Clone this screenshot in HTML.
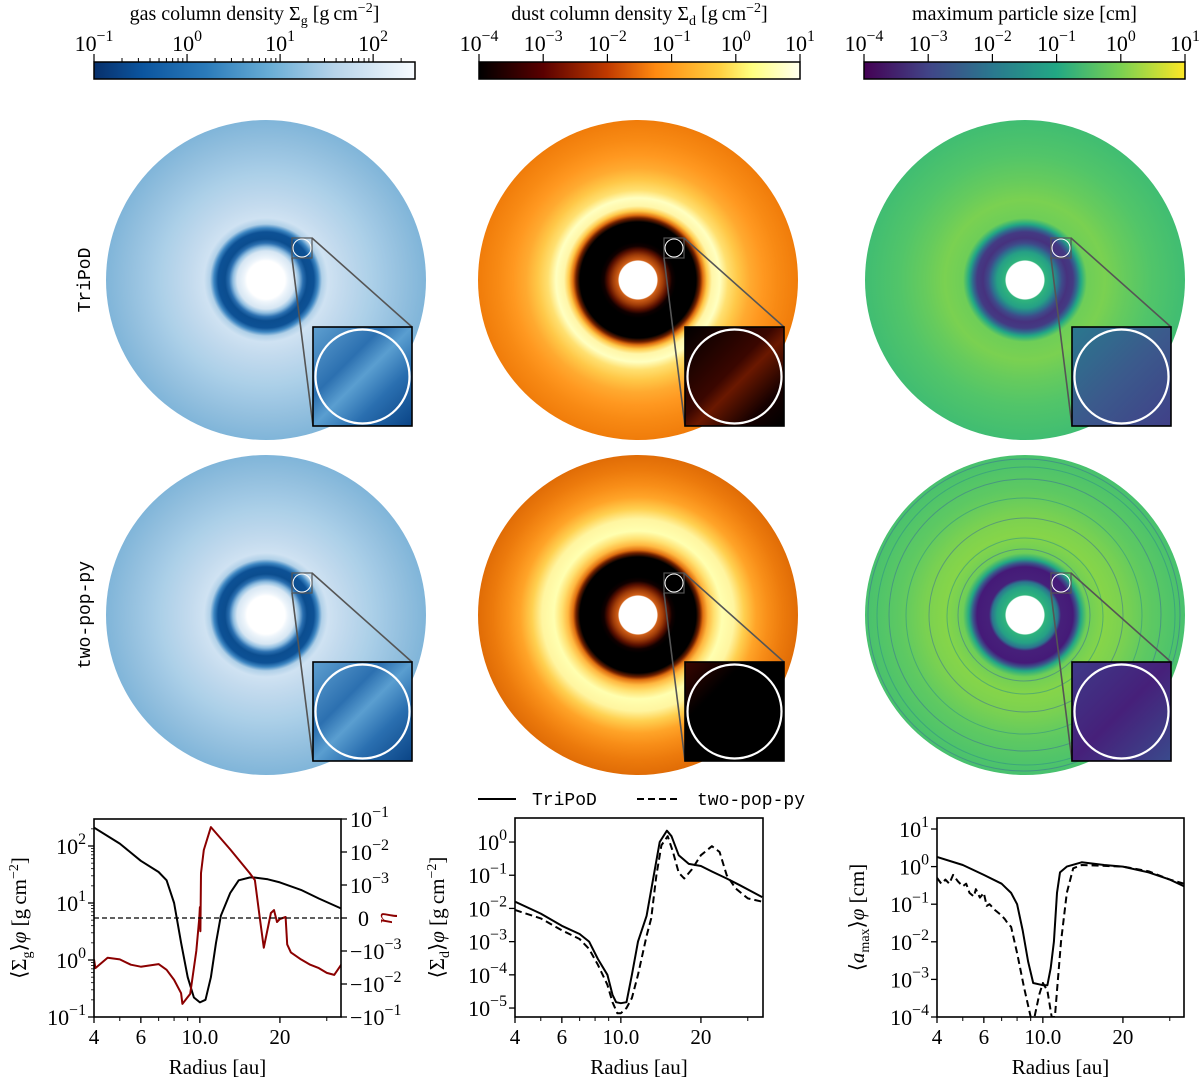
<!DOCTYPE html>
<html><head><meta charset="utf-8"><style>
html,body{margin:0;padding:0;background:#fff}
svg{display:block;font-family:"Liberation Serif","DejaVu Serif",serif}
.mono{font-family:"Liberation Mono","DejaVu Sans Mono",monospace}
</style></head><body>
<svg id="fig" width="1200" height="1080" viewBox="0 0 1200 1080" xmlns="http://www.w3.org/2000/svg">
<defs>
<linearGradient id="cbGas" x1="0" x2="1"><stop offset="0" stop-color="#08306b"/><stop offset="0.15" stop-color="#0b559f"/><stop offset="0.35" stop-color="#2b7bba"/><stop offset="0.55" stop-color="#6aaed6"/><stop offset="0.75" stop-color="#b7d4ea"/><stop offset="1" stop-color="#f7fbff"/></linearGradient>
<linearGradient id="cbDust" x1="0" x2="1"><stop offset="0" stop-color="#000"/><stop offset="0.2" stop-color="#5a0000"/><stop offset="0.4" stop-color="#c03a00"/><stop offset="0.55" stop-color="#ff8a10"/><stop offset="0.75" stop-color="#ffd040"/><stop offset="0.85" stop-color="#ffff80"/><stop offset="1" stop-color="#fffff0"/></linearGradient>
<linearGradient id="cbAmax" x1="0" x2="1"><stop offset="0" stop-color="#440154"/><stop offset="0.2" stop-color="#414487"/><stop offset="0.4" stop-color="#2a788e"/><stop offset="0.6" stop-color="#22a884"/><stop offset="0.8" stop-color="#7ad151"/><stop offset="1" stop-color="#fde725"/></linearGradient>
<linearGradient id="inGas" x1="0" y1="0" x2="1" y2="1"><stop offset="0" stop-color="#5e9fd0"/><stop offset="0.35" stop-color="#2c70b0"/><stop offset="0.5" stop-color="#5a9ed0"/><stop offset="0.7" stop-color="#2a6fb0"/><stop offset="1" stop-color="#0a4486"/></linearGradient>
<linearGradient id="inDust" x1="0" y1="0" x2="1" y2="1"><stop offset="0" stop-color="#000"/><stop offset="0.45" stop-color="#3a0600"/><stop offset="0.55" stop-color="#6a1800"/><stop offset="0.8" stop-color="#150000"/><stop offset="1" stop-color="#000"/></linearGradient>
<linearGradient id="inDust2" x1="0" y1="0" x2="1" y2="1"><stop offset="0" stop-color="#3a0500"/><stop offset="0.3" stop-color="#000"/><stop offset="1" stop-color="#000"/></linearGradient>
<linearGradient id="inAmax" x1="0" y1="0" x2="1" y2="1"><stop offset="0" stop-color="#2a788e"/><stop offset="0.5" stop-color="#3b5a8c"/><stop offset="1" stop-color="#404088"/></linearGradient>
<linearGradient id="inAmax2" x1="0" y1="0" x2="1" y2="1"><stop offset="0" stop-color="#3e3a88"/><stop offset="0.5" stop-color="#46207a"/><stop offset="1" stop-color="#3a4a8c"/></linearGradient>
</defs>
<g id="cbars"></g>
<g id="disks"></g>
<text class="mono" transform="translate(90,280) rotate(-90)" text-anchor="middle" font-size="18">TriPoD</text>
<text class="mono" transform="translate(90,615) rotate(-90)" text-anchor="middle" font-size="18">two-pop-py</text>
<g id="plots"></g>
<g>
<line x1="478" y1="799" x2="516" y2="799" stroke="#000" stroke-width="2"/>
<text class="mono" x="532" y="805" font-size="18">TriPoD</text>
<line x1="637" y1="799" x2="677" y2="799" stroke="#000" stroke-width="2" stroke-dasharray="7,4"/>
<text class="mono" x="697" y="805" font-size="18">two-pop-py</text>
</g>
</svg>
<script>
// ---- data arrays ----
const radiusTicks = [4, 6, 10, 20];
const radiusTickLabels = ["4", "6", "10.0", "20"];
const radiusMinor = [5, 7, 8, 9, 30];
const gasR = [4, 5, 6, 7, 7.5, 8, 8.5, 9, 9.5, 10, 10.5, 11, 11.5, 12, 13, 14, 15.4, 16, 18, 20, 24, 28, 34];
const gasSigma = [210, 110, 55, 35, 25, 10, 2, 0.5, 0.22, 0.18, 0.2, 0.5, 2, 6, 15, 25, 28, 28, 26, 23, 17, 12, 8];
const etaR = [4, 4.05, 4.5, 5, 5.5, 6, 7, 7.5, 8, 8.5, 8.6, 9.2, 9.7, 9.95, 10, 10.05, 10.1, 10.35, 11, 13, 15.4, 16.1, 16.8, 17.4, 18.5, 19, 19.5, 20, 21, 21.3, 22, 24, 26, 28, 30, 32, 34];
const etaVal = [-1.8e-3, -3.3e-3, -1.6e-3, -1.8e-3, -2.6e-3, -3e-3, -2.5e-3, -3.7e-3, -7.5e-3, -1.9e-2, -4e-2, -2e-2, -1e-3, 0, 3.3e-4, -4e-4, 2.3e-3, 1.15e-2, 5.7e-2, 1.2e-2, 2.3e-3, 1.4e-3, 0, -9e-4, 1.5e-4, 2.4e-4, -1.2e-4, -3e-5, 3e-5, -8e-4, -1.1e-3, -1.8e-3, -2.6e-3, -3.3e-3, -4.6e-3, -5.3e-3, -2.6e-3];
const dustR = [4, 5, 6, 7, 7.6, 8.2, 8.9, 9.3, 9.6, 10, 10.5, 11, 11.6, 12.5, 13.3, 14, 14.9, 15.5, 16.5, 18, 20, 22, 25, 28, 34];
const dustTri = [1.6e-2, 7e-3, 3e-3, 1.7e-3, 1e-3, 3e-4, 1e-4, 2.5e-5, 1.5e-5, 1.4e-5, 1.5e-5, 1e-4, 1e-3, 6e-3, 1e-1, 1, 2.2, 1.5, 0.4, 0.22, 0.19, 0.13, 0.08, 0.05, 0.022];
const dustR2 = [4, 5, 6, 7, 7.6, 8.2, 8.9, 9.3, 9.7, 10, 10.5, 11, 11.6, 12.5, 13, 13.6, 14.2, 15, 15.7, 16.5, 17.3, 18.5, 20, 22, 23.5, 25, 27, 30, 34];
const dustTwo = [9e-3, 5e-3, 2.2e-3, 1.2e-3, 6e-4, 2e-4, 5e-5, 1.5e-5, 7e-6, 7e-6, 1e-5, 2e-5, 1e-4, 1.5e-3, 5e-3, 0.1, 0.8, 1.5, 0.5, 0.12, 0.08, 0.15, 0.4, 0.75, 0.5, 0.1, 0.04, 0.02, 0.016];
const amaxR = [4, 5, 6, 7, 7.6, 8.0, 8.4, 8.8, 9.2, 10, 10.4, 10.7, 11, 11.3, 11.6, 12.3, 14, 17, 20, 25, 30, 34];
const amaxTri = [1.8, 1.1, 0.6, 0.35, 0.2, 0.1, 0.02, 3e-3, 8e-4, 7e-4, 7e-4, 2e-3, 0.01, 0.2, 0.7, 1.0, 1.3, 1.1, 1.0, 0.7, 0.45, 0.3];
const amaxR2 = [4, 4.15, 4.3, 4.45, 4.6, 4.8, 5, 5.15, 5.3, 5.5, 5.6, 5.8, 6, 6.15, 6.3, 6.6, 7, 7.2, 7.4, 7.6, 8, 8.5, 9, 9.3, 9.7, 10, 10.4, 10.8, 11.1, 11.3, 11.7, 12.3, 13, 14, 20, 25, 30, 34];
const amaxTwo = [0.5, 0.35, 0.45, 0.35, 0.6, 0.4, 0.3, 0.35, 0.2, 0.16, 0.25, 0.15, 0.2, 0.09, 0.1, 0.07, 0.05, 0.04, 0.03, 0.025, 0.005, 6e-4, 1e-4, 1e-4, 4e-4, 8e-4, 5e-4, 1e-4, 1e-4, 5e-4, 0.01, 0.2, 0.9, 1.1, 1.0, 0.75, 0.45, 0.35];

const NS = "http://www.w3.org/2000/svg";
function mk(tag, attrs, parent) {
  const e = document.createElementNS(NS, tag);
  for (const k in attrs) e.setAttribute(k, attrs[k]);
  parent.appendChild(e);
  return e;
}
function pow10Label(parent, x, y, exp, anchor, size, name) {
  const t = mk("text", {x: x, y: y, "text-anchor": anchor, "font-size": size}, parent);
  
  
  t.appendChild(document.createTextNode("10"));
  const s = mk("tspan", {dy: -size * 0.45, "font-size": size * 0.72}, t);
  s.textContent = (exp < 0 ? "\u2212" + (-exp) : "" + exp);
  return t;
}

// ---- colorbars ----
const cb = document.getElementById("cbars");
const cbDefs = [
  {x: 94, grad: "cbGas", lo: -1, hi: 2.45, exps: [-1, 0, 1, 2], minor: true, title: "gas column density \u03A3", sub: "g", unit: " [g\u2009cm", name: "gas"},
  {x: 479, grad: "cbDust", lo: -4, hi: 1, exps: [-4, -3, -2, -1, 0, 1], minor: false, title: "dust column density \u03A3", sub: "d", unit: " [g\u2009cm", name: "dust"},
  {x: 864, grad: "cbAmax", lo: -4, hi: 1, exps: [-4, -3, -2, -1, 0, 1], minor: false, title: "maximum particle size [cm]", sub: null, unit: null, name: "amax"}
];
cbDefs.forEach(d => {
  const w = 321;
  const g = mk("g", {}, cb);
  
  
  const r = mk("rect", {x: d.x, y: 62, width: w, height: 17, fill: "url(#" + d.grad + ")", stroke: "#000", "stroke-width": 1.5}, g);
  
  
  const sc = v => d.x + (v - d.lo) / (d.hi - d.lo) * w;
  d.exps.forEach(e => {
    mk("line", {x1: sc(e), x2: sc(e), y1: 62, y2: 54, stroke: "#000", "stroke-width": 1.2}, g);
    pow10Label(g, sc(e), 51, e, "middle", 22, 'colorbar-' + d.name + '-tick-label');
  });
  if (d.minor) {
    for (let e = d.lo; e < d.hi; e++) for (let m = 2; m < 10; m++) {
      const v = e + Math.log10(m);
      if (v < d.hi) mk("line", {x1: sc(v), x2: sc(v), y1: 62, y2: 58, stroke: "#000", "stroke-width": 1}, g);
    }
  }
  const t = mk("text", {x: d.x + w / 2, y: 20, "text-anchor": "middle", "font-size": 20}, g);
  
  
  t.appendChild(document.createTextNode(d.title));
  if (d.sub) {
    const s = mk("tspan", {dy: 5, "font-size": 14}, t); s.textContent = d.sub;
    const u = mk("tspan", {dy: -5}, t); u.textContent = d.unit;
    const p = mk("tspan", {dy: -8, "font-size": 14}, t); p.textContent = "\u22122";
    const c = mk("tspan", {dy: 8}, t); c.textContent = "]";
  }
});

// ---- disks ----
const disks = document.getElementById("disks");
const defs = document.querySelector("defs");
const gasStops = [[0, "#fff"], [19, "#fff"], [22, "#eef5fb"], [29, "#d6e6f3"], [33, "#8fbde0"], [37, "#2a6fb0"], [41, "#0b4d8f"], [48, "#0d5195"], [52, "#3d86c2"], [56, "#b0d0e8"], [62, "#cfe2f2"], [75, "#c4dbee"], [90, "#b8d5eb"], [105, "#acd0e8"], [120, "#a0c8e4"], [138, "#92bfde"], [160, "#80b5d9"]];
const dustStops1 = [[0, "#fff"], [19, "#fff"], [20, "#d06018"], [25, "#a03c08"], [30, "#5a1000"], [34, "#100000"], [38, "#000"], [58, "#000"], [62, "#702000"], [65, "#e07010"], [69, "#ffc848"], [74, "#fff6a8"], [82, "#ffffc0"], [90, "#ffe070"], [100, "#ffc848"], [112, "#ffaa30"], [125, "#ff9820"], [140, "#f88a14"], [160, "#f07c0a"]];
const dustStops2 = [[0, "#fff"], [19, "#fff"], [20, "#d06018"], [25, "#a03c08"], [30, "#5a1000"], [34, "#100000"], [38, "#000"], [58, "#000"], [62, "#702000"], [65, "#e07010"], [70, "#ffb840"], [76, "#ffe070"], [84, "#ffffb0"], [96, "#fff5a0"], [106, "#ffd050"], [118, "#ffa428"], [130, "#f88e18"], [145, "#ec7a0c"], [160, "#e06c06"]];
const amaxStops1 = [[0, "#fff"], [19, "#fff"], [20, "#2fb47c"], [28, "#25a085"], [33, "#2c738e"], [37, "#3f4a8a"], [42, "#46327e"], [48, "#443a83"], [52, "#31688e"], [56, "#22a884"], [62, "#6ece58"], [80, "#7ad151"], [100, "#66cb5d"], [125, "#52c569"], [160, "#40bd72"]];
const amaxStops2 = [[0, "#fff"], [19, "#fff"], [20, "#2fb47c"], [28, "#25a085"], [33, "#2c738e"], [36, "#46207a"], [48, "#451a78"], [52, "#3b528b"], [56, "#22a884"], [62, "#6ece58"], [80, "#86d549"], [100, "#7ad151"], [125, "#5ec962"], [160, "#48c16e"]];
let gid = 0;
function radGrad(stops, R) {
  const id = "rg" + (gid++);
  const g = mk("radialGradient", {id: id, cx: 0.5, cy: 0.5, r: 0.5}, defs);
  stops.forEach(s => mk("stop", {offset: s[0] / R, "stop-color": s[1]}, g));
  return id;
}
const diskDefs = [
  {cx: 266, cy: 280, stops: gasStops, inset: "inGas", name: "gas-tripod"},
  {cx: 638, cy: 280, stops: dustStops1, inset: "inDust", name: "dust-tripod"},
  {cx: 1025, cy: 280, stops: amaxStops1, inset: "inAmax", name: "amax-tripod"},
  {cx: 266, cy: 615, stops: gasStops, inset: "inGas", name: "gas-two-pop-py"},
  {cx: 638, cy: 615, stops: dustStops2, inset: "inDust2", name: "dust-two-pop-py"},
  {cx: 1025, cy: 615, stops: amaxStops2, inset: "inAmax2", name: "amax-two-pop-py", rings: true}
];
diskDefs.forEach(d => {
  const g = mk("g", {}, disks);
  
  
  const id = radGrad(d.stops, 160);
  mk("circle", {cx: d.cx, cy: d.cy, r: 160, fill: "url(#" + id + ")"}, g);
  if (d.rings) {
    [66, 78, 97, 118, 136, 149, 156].forEach((rr, i) => {
      mk("circle", {cx: d.cx + (i % 3 - 1), cy: d.cy + (i % 2), r: rr, fill: "none", stroke: i % 2 ? "#2a8a8c" : "#3a6a9a", "stroke-width": 1, opacity: 0.5}, g);
    });
  }
  const bx = d.cx + 26, by = d.cy - 42;
  mk("rect", {x: bx, y: by, width: 20, height: 20, fill: "none", stroke: "#555", "stroke-width": 1.2}, g);
  mk("circle", {cx: bx + 10, cy: by + 10, r: 9, fill: "none", stroke: "#fff", "stroke-width": 1}, g);
  const ix = d.cx + 47, iy = d.cy + 47;
  mk("line", {x1: bx + 20, y1: by, x2: ix + 99, y2: iy, stroke: "#555", "stroke-width": 1.6}, g);
  mk("line", {x1: bx, y1: by + 20, x2: ix, y2: iy + 99, stroke: "#555", "stroke-width": 1.6}, g);
  const r = mk("rect", {x: ix, y: iy, width: 99, height: 99, fill: "url(#" + d.inset + ")", stroke: "#000", "stroke-width": 1.6}, g);
  
  
  mk("circle", {cx: ix + 49.5, cy: iy + 49.5, r: 47, fill: "none", stroke: "#fff", "stroke-width": 2.2}, g);
});

// ---- line plots ----
const plots = document.getElementById("plots");
const xl4 = Math.log10(4);
function makePlot(o) {
  const g = mk("g", {}, plots);
  
  
  const X = r => o.x0 + 266 * (Math.log10(r) - xl4);
  const Y = v => o.yb - o.dec * (Math.log10(v) - o.lo);
  const clip = "clip-" + o.name;
  const cp = mk("clipPath", {id: clip}, defs);
  mk("rect", {x: o.x0, y: o.yt, width: o.x1 - o.x0, height: o.yb - o.yt}, cp);
  o.series.forEach(s => {
    const d = s.r.map((r, i) => (i ? "L" : "M") + X(r).toFixed(1) + "," + (s.f ? s.f(s.v[i]) : Y(s.v[i])).toFixed(1)).join("");
    const p = mk("path", {d: d, fill: "none", stroke: s.color, "stroke-width": 2, "stroke-dasharray": s.dash || "none", "clip-path": "url(#" + clip + ")", "stroke-linejoin": "round"}, g);
    
    
  });
  mk("rect", {x: o.x0, y: o.yt, width: o.x1 - o.x0, height: o.yb - o.yt, fill: "none", stroke: "#000", "stroke-width": 1.6}, g);
  radiusTicks.forEach((r, i) => {
    mk("line", {x1: X(r), x2: X(r), y1: o.yb, y2: o.yb + 6, stroke: "#000", "stroke-width": 1.3}, g);
    const t = mk("text", {x: X(r), y: o.yb + 27, "text-anchor": "middle", "font-size": 21}, g);
    
    
    t.textContent = radiusTickLabels[i];
  });
  radiusMinor.forEach(r => { if (X(r) < o.x1) mk("line", {x1: X(r), x2: X(r), y1: o.yb, y2: o.yb + 4, stroke: "#000", "stroke-width": 1}, g); });
  const xt = mk("text", {x: (o.x0 + o.x1) / 2, y: o.yb + 57, "text-anchor": "middle", "font-size": 21}, g);
  
  
  xt.textContent = "Radius [au]";
  for (let e = Math.ceil(o.lo); e <= o.hi; e++) {
    mk("line", {x1: o.x0, x2: o.x0 - 6, y1: Y(Math.pow(10, e)), y2: Y(Math.pow(10, e)), stroke: "#000", "stroke-width": 1.3}, g);
    pow10Label(g, o.x0 - 8, Y(Math.pow(10, e)) + 8, e, "end", 22, 'y-tick-label');
    if (o.minor) for (let m = 2; m < 10; m++) {
      const v = Math.pow(10, e) * m;
      if (Math.log10(v) < o.hi) mk("line", {x1: o.x0, x2: o.x0 - 3, y1: Y(v), y2: Y(v), stroke: "#000", "stroke-width": 0.8}, g);
    }
  }
  const yt = mk("text", {transform: "translate(" + o.ylx + "," + ((o.yt + o.yb) / 2) + ") rotate(-90)", "text-anchor": "middle", "font-size": 21}, g);
  
  
  yt.appendChild(document.createTextNode("\u27E8"));
  const s0 = mk("tspan", {"font-style": o.symItalic ? "italic" : "normal"}, yt); s0.textContent = o.sym;
  const s1 = mk("tspan", {dy: 5, "font-size": 14}, yt); s1.textContent = o.sub;
  const s2 = mk("tspan", {dy: -5}, yt); s2.textContent = "\u27E9";
  const s3 = mk("tspan", {"font-style": "italic"}, yt); s3.textContent = "\u03C6";
  const s4 = mk("tspan", {}, yt); s4.textContent = o.unit;
  if (o.unitPow) {
    const s5 = mk("tspan", {dy: -8, "font-size": 14}, yt); s5.textContent = "\u22122";
    const s6 = mk("tspan", {dy: 8}, yt); s6.textContent = "]";
  }
  return g;
}
function etaY(v) {
  const a = Math.abs(v);
  const u = a <= 1e-3 ? a / 1e-3 : 1 + Math.log10(a / 1e-3);
  return 918 - 33 * Math.sign(v) * u;
}
const g1 = makePlot({name: "gas-profile-plot", x0: 94, x1: 341, yt: 819, yb: 1017, lo: -1, hi: 2.47, dec: 57, minor: true, ylx: 26, sym: "\u03A3", sub: "g", unit: " [g\u2009cm", unitPow: true,
  series: [{r: gasR, v: gasSigma, color: "#000", name: "gas-density-line"}, {r: etaR, v: etaVal, color: "#8b0000", f: etaY, name: "eta-line"}]});
mk("line", {x1: 94, x2: 341, y1: 918, y2: 918, stroke: "#000", "stroke-width": 1.2, "stroke-dasharray": "5,3"}, g1);
[[1e-1, "10", "\u22121"], [1e-2, "10", "\u22122"], [1e-3, "10", "\u22123"], [0, "0", ""], [-1e-3, "\u221210", "\u22123"], [-1e-2, "\u221210", "\u22122"], [-1e-1, "\u221210", "\u22121"]].forEach(t => {
  const y = etaY(t[0]);
  mk("line", {x1: 341, x2: 347, y1: y, y2: y, stroke: "#000", "stroke-width": 1.3}, g1);
  const tx = mk("text", {x: t[0] === 0 ? 358 : 350, y: y + 8, "font-size": 22}, g1);
  
  
  tx.appendChild(document.createTextNode(t[1]));
  if (t[2]) { const s = mk("tspan", {dy: -10, "font-size": 16}, tx); s.textContent = t[2]; }
});
const eta = mk("text", {transform: "translate(392,918) rotate(-90)", "text-anchor": "middle", "font-size": 24, fill: "#8b0000", "font-style": "italic"}, g1);


eta.textContent = "\u03B7";

makePlot({name: "dust-profile-plot", x0: 515, x1: 763, yt: 818, yb: 1017, lo: -5.27, hi: 0.72, dec: 33.2, minor: false, ylx: 444, sym: "\u03A3", sub: "d", unit: " [g\u2009cm", unitPow: true,
  series: [{r: dustR, v: dustTri, color: "#000", name: "dust-tripod-line"}, {r: dustR2, v: dustTwo, color: "#000", dash: "7,4", name: "dust-two-pop-py-line"}]});
makePlot({name: "amax-profile-plot", x0: 937, x1: 1184, yt: 818, yb: 1017, lo: -4, hi: 1.3, dec: 37.6, minor: false, ylx: 864, sym: "a", symItalic: true, sub: "max", unit: " [cm]", unitPow: false,
  series: [{r: amaxR, v: amaxTri, color: "#000", name: "amax-tripod-line"}, {r: amaxR2, v: amaxTwo, color: "#000", dash: "7,4", name: "amax-two-pop-py-line"}]});
</script>
</body></html>
